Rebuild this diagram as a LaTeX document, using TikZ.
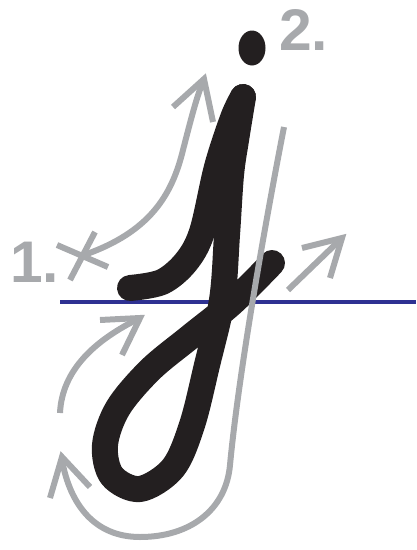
\documentclass[tikz,border=0pt]{standalone}
\usepackage{fontspec}
\setmainfont{Liberation Sans}
\definecolor{jblack}{HTML}{231F20}
\definecolor{jgray}{HTML}{A7A9AC}
\definecolor{jblue}{HTML}{2E3192}
\begin{document}
\begin{tikzpicture}[x=1pt,y=-1pt,
  ink/.style={line width=26pt, line cap=round, line join=round, draw=jblack},
  guide/.style={line width=6pt, draw=jgray, line cap=butt, line join=miter},
  baseline rule/.style={line width=3.4pt, draw=jblue},
  steplabel/.style={inner sep=0pt, text=jgray, font=\fontsize{58.7}{60}\selectfont\bfseries}]
\useasboundingbox (0,0) rectangle (416,550);
% base line
\draw[baseline rule] (60,302) -- (416,302);
% letter j
\draw[ink] plot[smooth, tension=0.55] coordinates {(130,288) (162,282) (186,262) (202,232) (217,167) (233,118) (243,97)};
\draw[ink] plot[smooth, tension=0.55] coordinates {(243,97) (236,140) (231,175) (227,235) (222,300) (207,365) (192,425) (173,468) (140,489) (112,476) (105,445) (118,408) (150,370) (190,337) (232,303) (272,263)};
\fill[jblack] (252,48) ellipse [x radius=13.5, y radius=17.5];
% guide arrows
\draw[guide] (84,255) .. controls (150,232) and (172,195) .. (183,150) .. controls (192,115) and (198,92) .. (204,80);
\draw[guide] (173,107) -- (204,79) -- (213,122);
\draw[guide] (57,245) -- (108,267);
\draw[guide] (95,232) -- (70,280);
\draw[guide] (284,127) .. controls (262,240) and (238,380) .. (230,465) .. controls (226,510) and (190,537) .. (140,537) .. controls (95,537) and (70,505) .. (62,460);
\draw[guide] (50,498) -- (62,457) -- (90,487);
\draw[guide] (60,413) .. controls (62,370) and (95,340) .. (140,318);
\draw[guide] (100,320) -- (140,318) -- (122,355);
\draw[guide] (288,290) -- (342,238);
\draw[guide] (302,248) -- (342,238) -- (330,278);
% labels
\node[steplabel, anchor=base west] (one) at (10,282) {1.};
\node[steplabel, anchor=base west] (two) at (279,50) {2.};
\end{tikzpicture}
\end{document}
